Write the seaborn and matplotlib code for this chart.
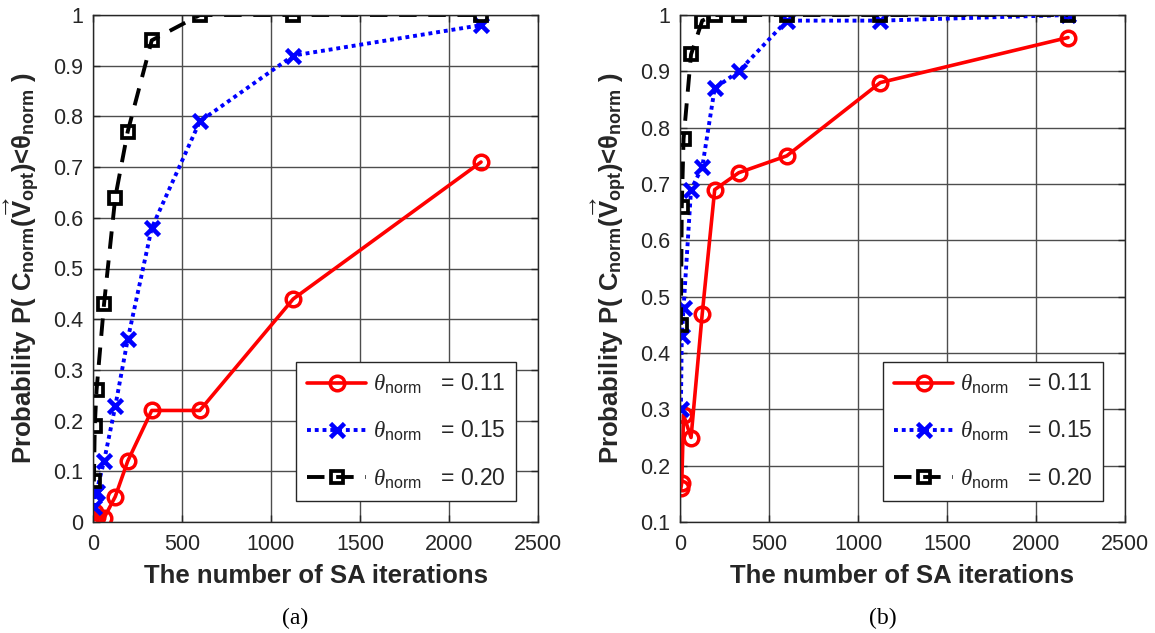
import matplotlib
matplotlib.use("Agg")
import matplotlib.pyplot as plt
import seaborn as sns
import pandas as pd

# ---------------- data ----------------
iterations = [5, 10, 20, 62, 125, 195, 330, 600, 1125, 2180]

a_theta_011 = [0.01, 0.02, 0.01, 0.008, 0.05, 0.12, 0.22, 0.22, 0.44, 0.71]
a_theta_015 = [0.03, 0.055, 0.06, 0.12, 0.228, 0.36, 0.58, 0.79, 0.92, 0.98]
a_theta_020 = [0.08, 0.19, 0.26, 0.43, 0.64, 0.77, 0.95, 1.0, 1.0, 1.0]

b_theta_011 = [0.16, 0.17, 0.29, 0.25, 0.47, 0.69, 0.72, 0.75, 0.88, 0.96]
b_theta_015 = [0.30, 0.43, 0.48, 0.69, 0.73, 0.87, 0.90, 0.99, 0.99, 1.0]
b_theta_020 = [0.45, 0.66, 0.78, 0.93, 0.99, 1.0, 1.0, 1.0, 1.0, 1.0]

legend_labels = [r'$\theta_{\mathrm{norm}}$   = 0.11',
                 r'$\theta_{\mathrm{norm}}$   = 0.15',
                 r'$\theta_{\mathrm{norm}}$   = 0.20']
xticks = [0, 500, 1000, 1500, 2000, 2500]
a_yticks = [0, 0.1, 0.2, 0.3, 0.4, 0.5, 0.6, 0.7, 0.8, 0.9, 1.0]
b_yticks = [0.1, 0.2, 0.3, 0.4, 0.5, 0.6, 0.7, 0.8, 0.9, 1.0]
captions = ['(a)', '(b)']
xlabel = 'The number of SA iterations'
ylabel = (r'Probability P( C$_{\mathbf{norm}}$'
          r'($\overrightarrow{\mathbf{V}}_{\mathbf{opt}}$)'
          r'<$\mathbf{\theta}_{\mathbf{norm}}$ )')

# ---------------- style ----------------
sns.set_style('ticks')
plt.rcParams['font.family'] = ['Liberation Sans', 'DejaVu Sans']
plt.rcParams['mathtext.fontset'] = 'custom'
plt.rcParams['mathtext.rm'] = 'Liberation Sans'
plt.rcParams['mathtext.it'] = 'Liberation Serif:italic'
plt.rcParams['mathtext.bf'] = 'Liberation Sans:bold'

TXT = '#262626'
GRID = '#4d4d4d'

fig = plt.figure(figsize=(11.55, 6.33), dpi=100)
ax_a = fig.add_axes([93 / 1155, 111 / 633, 445 / 1155, 507 / 633])
ax_b = fig.add_axes([680 / 1155, 111 / 633, 445 / 1155, 507 / 633])

styles = [
    dict(color='#ff0000', linestyle='-', marker='o', markersize=10.5,
         markerfacecolor='none', markeredgecolor='#ff0000',
         markeredgewidth=2.5, linewidth=2.6),
    dict(color='#0000ff', linestyle=(0, (1, 1)), marker='x', markersize=9.5,
         markeredgecolor='#0000ff', markeredgewidth=3.3, linewidth=2.8),
    dict(color='#000000', linestyle=(0, (4.5, 3)), marker='s', markersize=8.5,
         markerfacecolor='none', markeredgecolor='#000000',
         markeredgewidth=2.7, linewidth=2.8),
]


def draw(ax, series, yticks, ylim, caption):
    for vals, lab, st in zip(series, legend_labels, styles):
        df = pd.DataFrame({'iter': iterations, 'p': vals})
        sns.lineplot(data=df, x='iter', y='p', ax=ax, label=lab, **st)
    ax.set_xlim(0, 2500)
    ax.set_ylim(*ylim)
    ax.set_xticks(xticks)
    ax.set_xticklabels([str(t) for t in xticks])
    ax.set_yticks(yticks)
    ax.set_yticklabels(['%g' % t for t in yticks])
    ax.grid(True, color=GRID, linewidth=1.0)
    ax.set_axisbelow(True)
    for sp in ax.spines.values():
        sp.set_visible(True)
        sp.set_color(TXT)
        sp.set_linewidth(1.0)
    ax.tick_params(axis='both', direction='in', length=5, width=1, colors=TXT,
                   labelsize=15.5, top=True, right=True)
    ax.tick_params(axis='x', pad=9)
    ax.tick_params(axis='y', pad=7)
    ax.set_xlabel(xlabel, fontsize=18.5, fontweight='bold', color=TXT, labelpad=6)
    ax.set_ylabel(ylabel, fontsize=18.5, fontweight='bold', color=TXT, labelpad=8)
    leg = ax.legend(loc='lower right', bbox_to_anchor=(0.951, 0.0415),
                    borderaxespad=0, fontsize=16.5, frameon=True, fancybox=False,
                    handlelength=2.6, handletextpad=0.3, labelspacing=1.0,
                    borderpad=0.45)
    leg.get_frame().set_edgecolor(TXT)
    leg.get_frame().set_linewidth(1.0)
    leg.get_frame().set_alpha(1.0)
    ax.text(0.455, -0.19, caption, transform=ax.transAxes, ha='center',
            va='center', fontsize=17, family='Liberation Serif', color='black')


draw(ax_a, [a_theta_011, a_theta_015, a_theta_020], a_yticks, (0, 1), captions[0])
draw(ax_b, [b_theta_011, b_theta_015, b_theta_020], b_yticks, (0.1, 1), captions[1])

fig.savefig('out.png', dpi=100)
